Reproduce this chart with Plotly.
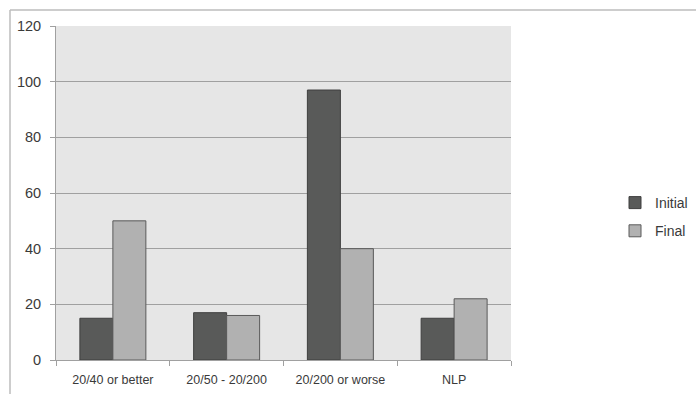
import plotly.graph_objects as go

categories = ["20/40 or better", "20/50 - 20/200", "20/200 or worse", "NLP"]
initial = [15, 17, 97, 15]
final = [50, 16, 40, 22]
y_ticks = [0, 20, 40, 60, 80, 100, 120]

FONT = "Liberation Sans"
TEXT = "#3A3A3A"
W, H = 696, 394
L, R, T, B = 56, 185, 26, 34
pw, ph = W - L - R, H - T - B


def px_x(x):
    return (x - L) / pw


def px_y(y):
    return (H - B - y) / ph


fig = go.Figure()
fig.add_trace(go.Bar(
    x=categories, y=initial, name="Initial", legendgroup="a",
    marker=dict(color="#595A59", line=dict(color="#3F3F3F", width=1)),
))
fig.add_trace(go.Bar(
    x=categories, y=final, name="Final", legendgroup="b",
    marker=dict(color="#B1B1B1", line=dict(color="#5A5A5A", width=1)),
))

fig.update_layout(
    width=W, height=H,
    margin=dict(l=L, r=R, t=T, b=B, pad=0, autoexpand=False),
    paper_bgcolor="white",
    plot_bgcolor="#E6E6E6",
    barmode="group",
    bargap=0.42,
    bargroupgap=0,
    font=dict(family=FONT, size=14, color=TEXT),
    legend=dict(
        x=px_x(615), y=px_y(187), xanchor="left", yanchor="top",
        font=dict(family=FONT, size=14, color=TEXT),
        traceorder="grouped", tracegroupgap=7,
        bgcolor="rgba(0,0,0,0)", itemwidth=30,
    ),
    showlegend=True,
)

fig.update_xaxes(
    type="category",
    showgrid=False,
    showline=True, linecolor="#A0A0A0", linewidth=1,
    ticks="outside", tickson="boundaries", ticklen=5, tickcolor="#A0A0A0",
    ticklabelstandoff=8,
    tickfont=dict(family=FONT, size=12.5, color=TEXT),
)
fig.update_yaxes(
    range=[0, 120],
    tickvals=y_ticks,
    showgrid=True, gridcolor="#A0A0A0", gridwidth=1,
    zeroline=False,
    showline=True, linecolor="#A0A0A0", linewidth=1,
    ticks="outside", ticklen=5, tickcolor="#A0A0A0",
    ticklabelstandoff=6,
    tickfont=dict(family=FONT, size=14.5, color=TEXT),
)

# Outer frame around the chart area
frame = dict(type="line", xref="paper", yref="paper",
             line=dict(color="#BDBDBD", width=1.5))
fig.add_shape(**frame, x0=px_x(10), y0=px_y(10), x1=px_x(W + 5), y1=px_y(10))
fig.add_shape(**frame, x0=px_x(10), y0=px_y(10), x1=px_x(10), y1=px_y(H + 5))

fig.write_html("out.html")
